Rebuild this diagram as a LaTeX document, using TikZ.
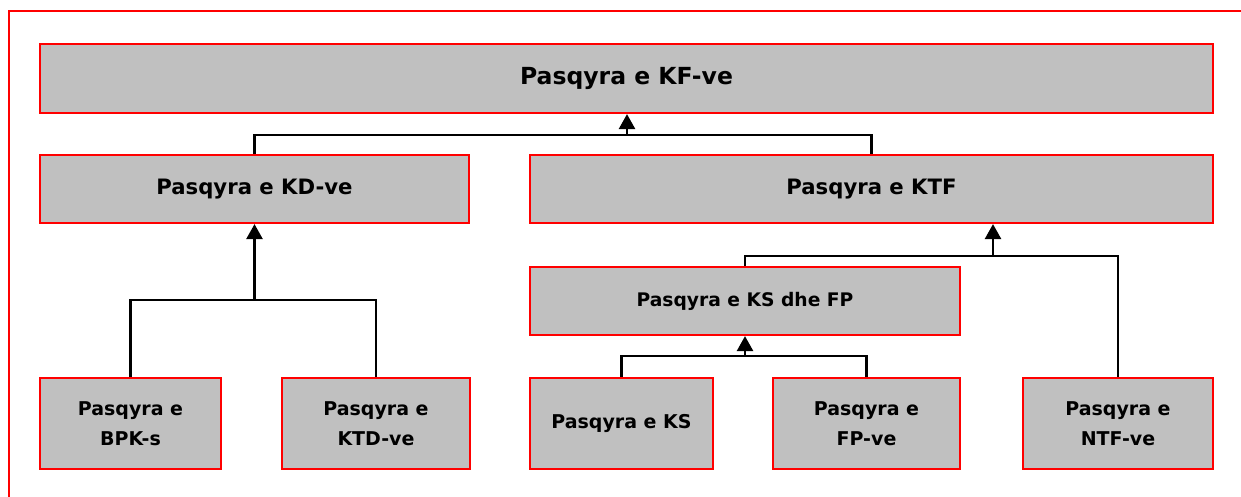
\documentclass[tikz,border=0pt]{standalone}
\usepackage{fontspec}
\setmainfont{DejaVu Sans}
\usetikzlibrary{arrows.meta}
\definecolor{boxgray}{HTML}{C0C0C0}
\definecolor{boxred}{HTML}{FF0000}
\tikzset{
  box/.style={draw=boxred, fill=boxgray, line width=2.2pt, rectangle, inner sep=0pt, align=center, font=\bfseries},
  conn/.style={draw=black, line width=2.6pt},
  arr/.style={conn, -{Triangle[width=16pt,length=15pt]}},
}
\begin{document}
\begin{tikzpicture}[x=1pt,y=-1pt]
\useasboundingbox (0,0) rectangle (1241,497);
\draw[boxred, line width=2.2pt] (9,500) |- (1245,11);
\node[box, minimum width=1173pt, minimum height=69pt, font=\bfseries\fontsize{23.5}{26}\selectfont] (top) at (626.5,78.5) {Pasqyra e KF-ve};
\node[box, minimum width=429pt, minimum height=68pt, font=\bfseries\fontsize{21.2}{24}\selectfont] (kd) at (254.5,189) {Pasqyra e KD-ve};
\node[box, minimum width=683pt, minimum height=68pt, font=\bfseries\fontsize{21.2}{24}\selectfont] (ktf) at (871.5,189) {Pasqyra e KTF};
\node[box, minimum width=430pt, minimum height=68pt, font=\bfseries\fontsize{18.7}{22}\selectfont] (ksfp) at (745,301) {Pasqyra e KS dhe FP};
\tikzset{bot/.style={box, minimum height=91pt, font=\bfseries\fontsize{19}{30}\selectfont}}
\node[bot, minimum width=181pt] (bpk) at (130.5,423.5) {Pasqyra e\\BPK-s};
\node[bot, minimum width=188pt] (ktd) at (376,423.5) {Pasqyra e\\KTD-ve};
\node[bot, minimum width=183pt] (ks) at (621.5,423.5) {Pasqyra e KS};
\node[bot, minimum width=187pt] (fp) at (866.5,423.5) {Pasqyra e\\FP-ve};
\node[bot, minimum width=190pt] (ntf) at (1118,423.5) {Pasqyra e\\NTF-ve};
\coordinate (j1) at (627,135);
\coordinate (j2) at (254.5,300);
\coordinate (j3) at (993,256);
\coordinate (j4) at (745,356);
\draw[conn] (kd.north) |- (j1) -| (ktf.north);
\draw[arr] (j1) -- (j1 |- top.south);
\draw[conn] (bpk.north) |- (j2) -| (ktd.north);
\draw[arr] (j2) -- (kd.south);
\draw[conn] (ksfp.north) |- (j3) -| (ntf.north);
\draw[arr] (j3) -- (j3 |- ktf.south);
\draw[conn] (ks.north) |- (j4) -| (fp.north);
\draw[arr] (j4) -- (ksfp.south);
\end{tikzpicture}
\end{document}
